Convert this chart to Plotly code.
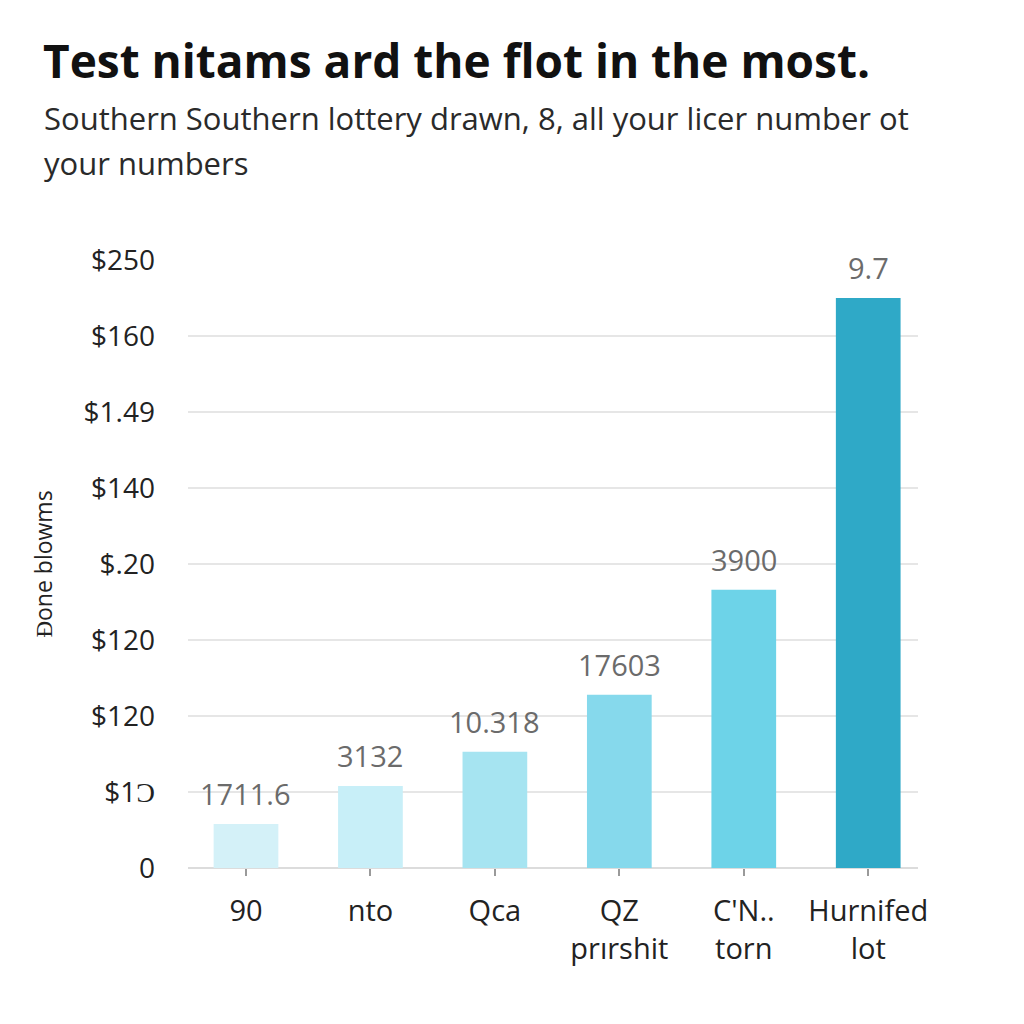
import plotly.graph_objects as go

categories = ["90", "nto", "Qca", "QZ<br>prırshit", "C'N..<br>torn", "Hurnifed<br>lot"]
values = [0.58, 1.08, 1.53, 2.28, 3.66, 7.5]
bar_labels = ["1711.6", "3132", "10.318", "17603", "3900", "9.7"]
bar_colors = ["#d4f1f8", "#c8eff8", "#a6e4f1", "#86d9ec", "#6dd3e8", "#2fa9c7"]
tick_vals = [0, 1, 2, 3, 4, 5, 6, 7, 8]
tick_text = ["0", "$1Ɔ", "$120", "$120", "$.20", "$140", "$1.49", "$160", "$250"]
title_text = "Test nitams ard the flot in the most."
subtitle_lines = ["Southern Southern lottery drawn, 8, all your licer number ot", "your numbers"]
y_title = "Ɖone blowms"

fig = go.Figure()
fig.add_trace(go.Bar(
    x=list(range(len(categories))),
    y=values,
    width=0.52,
    marker=dict(color=bar_colors, line=dict(width=0)),
    hoverinfo="skip",
))

for i, (v, t) in enumerate(zip(values, bar_labels)):
    fig.add_annotation(x=i, y=v, text=t, showarrow=False, yanchor="bottom", yshift=9,
                       font=dict(family="Open Sans", size=29, color="#6b6b6b"))

fig.update_layout(
    width=1024, height=1024,
    paper_bgcolor="white", plot_bgcolor="white",
    margin=dict(l=188, r=106, t=260, b=156),
    showlegend=False,
    title=dict(
        text="<b>" + title_text + "</b>",
        x=43 / 1024, xanchor="left", xref="container",
        y=1 - 62 / 1024, yanchor="middle", yref="container",
        font=dict(family="Open Sans", size=46, color="#111111"),
    ),
)

sub_y = [118, 163]
for line, yy in zip(subtitle_lines, sub_y):
    fig.add_annotation(
        xref="paper", yref="paper", x=-146 / 730, y=1 + (260 - yy) / 608,
        xanchor="left", yanchor="middle", align="left", showarrow=False,
        text=line,
        font=dict(family="Open Sans", size=31, color="#2a2a2a"),
    )

fig.update_xaxes(
    range=[-0.466, 5.40],
    tickmode="array", tickvals=list(range(len(categories))), ticktext=categories,
    ticks="outside", ticklen=7, tickwidth=2, tickcolor="#9a9a9a",
    ticklabelstandoff=10,
    showgrid=False, showline=False, zeroline=False,
    tickfont=dict(family="Open Sans", size=29, color="#222222"),
)
fig.update_yaxes(
    range=[0, 8],
    tickmode="array", tickvals=tick_vals, ticktext=tick_text,
    showgrid=True, gridcolor="#e6e6e6", gridwidth=1.5,
    zeroline=True, zerolinecolor="#dcdcdc", zerolinewidth=2,
    ticks="", ticklabelstandoff=32,
    tickfont=dict(family="Open Sans", size=28, color="#222222"),
    title=dict(text=y_title, font=dict(family="Open Sans", size=23, color="#222222"), standoff=24),
)

fig.write_html("out.html")
